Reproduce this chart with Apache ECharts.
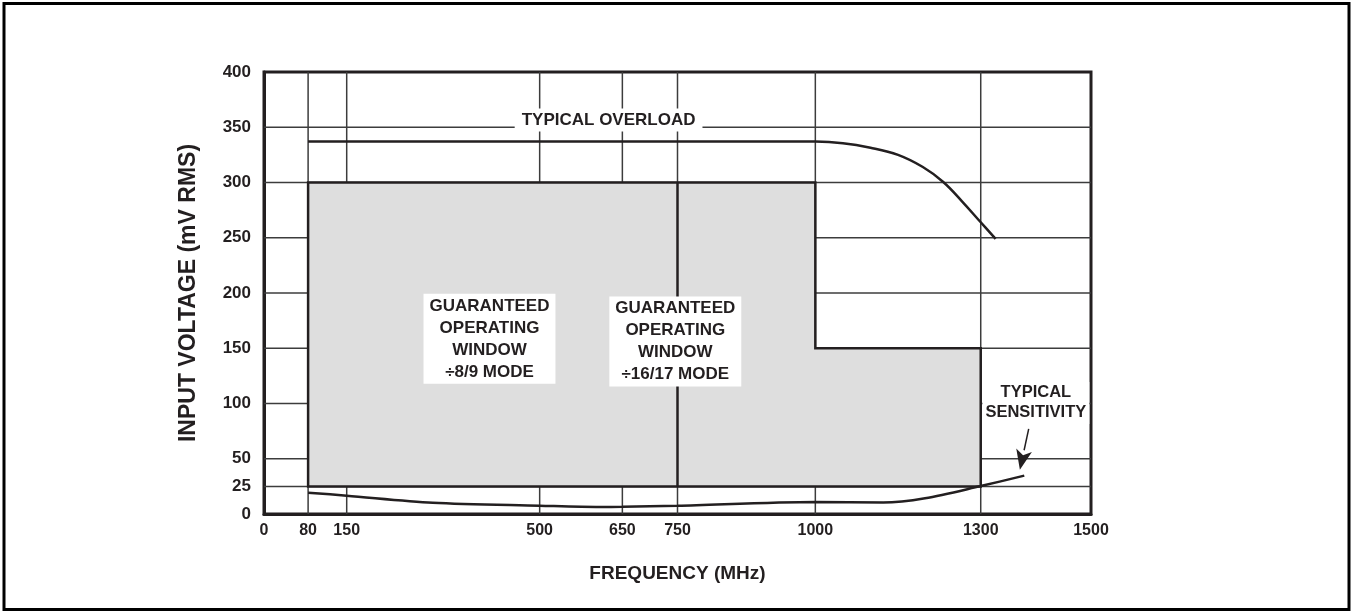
<!DOCTYPE html>
<html>
<head>
<meta charset="utf-8">
<script src="https://cdn.jsdelivr.net/npm/echarts@6/dist/echarts.min.js"></script>
<style>
	html, body { margin:0; padding:0; background:#fff; }
	#chart { width:1354px; height:613px; }
</style>
</head>
<body>
<div id="chart"></div>
<script>
	// tick labels
	var xTicks = [0, 80, 150, 500, 650, 750, 1000, 1300, 1500];
	var yTicks = [0, 25, 50, 100, 150, 200, 250, 300, 350, 400];
	// grid lines drawn on the plot
	var xGrid = [80, 150, 500, 650, 750, 1000, 1300];
	var yGrid = [25, 50, 100, 150, 200, 250, 300, 350];

	// guaranteed operating window outline, and the split between modes
	var windowArea = [[80, 25], [80, 300], [1000, 300], [1000, 150], [1300, 150], [1300, 25]];
	var modeSplit = [[750, 25], [750, 300]];

	// curves
	var overload = [[80, 337], [600, 337], [1000, 337], [1050, 335.6], [1100, 331.5], [1150, 325],
		[1195, 314], [1232, 300.5], [1266, 283], [1300, 264], [1327, 249]];
	var sensitivity = [[80, 19.3], [150, 16.6], [306, 10.2], [500, 7.5], [609, 6.3], [650, 6.5], [750, 7.5],
		[1000, 10.9], [1123, 10.3], [1199, 14.2], [1300, 25.3], [1379, 34.7]];
	var sensArrow = [[1387, 77], [1371, 40]];

	// text labels and where they sit
	var labelText = [
		'TYPICAL OVERLOAD',
		'GUARANTEED\nOPERATING\nWINDOW\n\u00f78/9 MODE',
		'GUARANTEED\nOPERATING\nWINDOW\n\u00f716/17 MODE',
		'TYPICAL\nSENSITIVITY'
	];
	var labelPos = [[625, 356.5], [409, 158.5], [746, 156], [1400, 100.5]];

	var ink = '#231f20';
	var font = '"Liberation Sans", Arial, sans-serif';

	var myChart = echarts.init(document.getElementById('chart'));

	var option = {
		animation: false,
		backgroundColor: '#fff',
		graphic: [{
			type: 'rect',
			shape: { x: 4, y: 3.5, width: 1345, height: 606 },
			style: { fill: 'none', stroke: '#000', lineWidth: 3 },
			silent: true
		}],
		grid: {
			left: 264, right: 263, top: 72, bottom: 99,
			show: true, borderColor: ink, borderWidth: 3
		},
		xAxis: {
			type: 'value',
			min: 0, max: 1500,
			name: 'FREQUENCY (MHz)',
			nameLocation: 'middle',
			nameGap: 50,
			nameTextStyle: { color: ink, fontFamily: font, fontWeight: 'bold', fontSize: 19 },
			axisLine: { show: true, lineStyle: { color: ink, width: 3 } },
			axisTick: { show: false },
			splitLine: { show: false },
			axisLabel: {
				customValues: xTicks,
				formatter: function (v) { return String(v); },
				color: ink, fontFamily: font, fontWeight: 'bold', fontSize: 16, margin: 9
			}
		},
		yAxis: {
			type: 'value',
			min: 0, max: 400,
			name: 'INPUT VOLTAGE (mV RMS)',
			nameLocation: 'middle',
			nameGap: 64,
			nameTextStyle: { color: ink, fontFamily: font, fontWeight: 'bold', fontSize: 23 },
			axisLine: { show: true, lineStyle: { color: ink, width: 3 } },
			axisTick: { show: false },
			splitLine: { show: false },
			axisLabel: {
				customValues: yTicks,
				formatter: function (v) { return String(v); },
				color: ink, fontFamily: font, fontWeight: 'bold', fontSize: 17, margin: 13
			}
		},
		series: [
			{
				// grid lines
				type: 'custom',
				z: 1,
				silent: true,
				data: [[0]],
				renderItem: function (params, api) {
					var kids = [];
					xGrid.forEach(function (v) {
						var a = api.coord([v, 0]), b = api.coord([v, 400]);
						kids.push({ type: 'line', shape: { x1: a[0], y1: a[1], x2: b[0], y2: b[1] },
							style: { stroke: '#3c3c3c', lineWidth: 1.5 } });
					});
					yGrid.forEach(function (v) {
						var a = api.coord([0, v]), b = api.coord([1500, v]);
						kids.push({ type: 'line', shape: { x1: a[0], y1: a[1], x2: b[0], y2: b[1] },
							style: { stroke: '#3c3c3c', lineWidth: 1.5 } });
					});
					return { type: 'group', children: kids };
				}
			},
			{
				// operating window
				type: 'custom',
				z: 2,
				silent: true,
				data: [[0]],
				renderItem: function (params, api) {
					var pts = windowArea.map(function (p) { return api.coord(p); });
					var a = api.coord(modeSplit[0]), b = api.coord(modeSplit[1]);
					return {
						type: 'group',
						children: [{
							type: 'polygon',
							shape: { points: pts },
							style: { fill: '#dedede', stroke: ink, lineWidth: 2.5 }
						}, {
							type: 'line',
							shape: { x1: a[0], y1: a[1], x2: b[0], y2: b[1] },
							style: { stroke: ink, lineWidth: 2.5 }
						}]
					};
				}
			},
			{
				type: 'line',
				z: 3,
				data: overload,
				smooth: 0.4,
				showSymbol: false,
				lineStyle: { color: ink, width: 2.5 }
			},
			{
				type: 'line',
				z: 3,
				data: sensitivity,
				smooth: 0.3,
				showSymbol: false,
				lineStyle: { color: ink, width: 2.5 }
			},
			{
				// arrow pointing at the sensitivity curve
				type: 'custom',
				z: 4,
				silent: true,
				data: [[0]],
				renderItem: function (params, api) {
					var a = api.coord(sensArrow[0]), b = api.coord(sensArrow[1]);
					var dx = b[0] - a[0], dy = b[1] - a[1];
					var len = Math.sqrt(dx * dx + dy * dy);
					var ux = dx / len, uy = dy / len;
					var hl = 20, hw = 8;
					var bx = b[0] - ux * hl, by = b[1] - uy * hl;
					return {
						type: 'group',
						children: [{
							type: 'line',
							shape: { x1: a[0], y1: a[1], x2: bx, y2: by },
							style: { stroke: ink, lineWidth: 1.5 }
						}, {
							type: 'polygon',
							shape: { points: [[b[0], b[1]], [bx - uy * hw, by + ux * hw], [bx + ux * 5, by + uy * 5], [bx + uy * hw, by - ux * hw]] },
							style: { fill: ink }
						}]
					};
				}
			},
			{
				// text labels
				type: 'custom',
				z: 5,
				silent: true,
				data: [[0]],
				renderItem: function (params, api) {
					var kids = [];
					for (var i = 0; i < labelText.length; i++) {
						var p = api.coord(labelPos[i]);
						var small = i == 3;
						kids.push({
							type: 'text',
							x: p[0], y: p[1],
							style: {
								text: labelText[i],
								fill: ink,
								fontFamily: font,
								fontWeight: 'bold',
								fontSize: small ? 16.5 : 17,
								lineHeight: small ? 20 : 22,
								align: 'center',
								verticalAlign: 'middle',
								backgroundColor: '#fff',
								padding: i == 0 ? [1, 7, 0, 7] : (small ? [1, 3, 1, 3] : [1, 6, 1, 6])
							}
						});
					}
					return { type: 'group', children: kids };
				}
			}
		]
	};

	myChart.setOption(option);
</script>
</body>
</html>
